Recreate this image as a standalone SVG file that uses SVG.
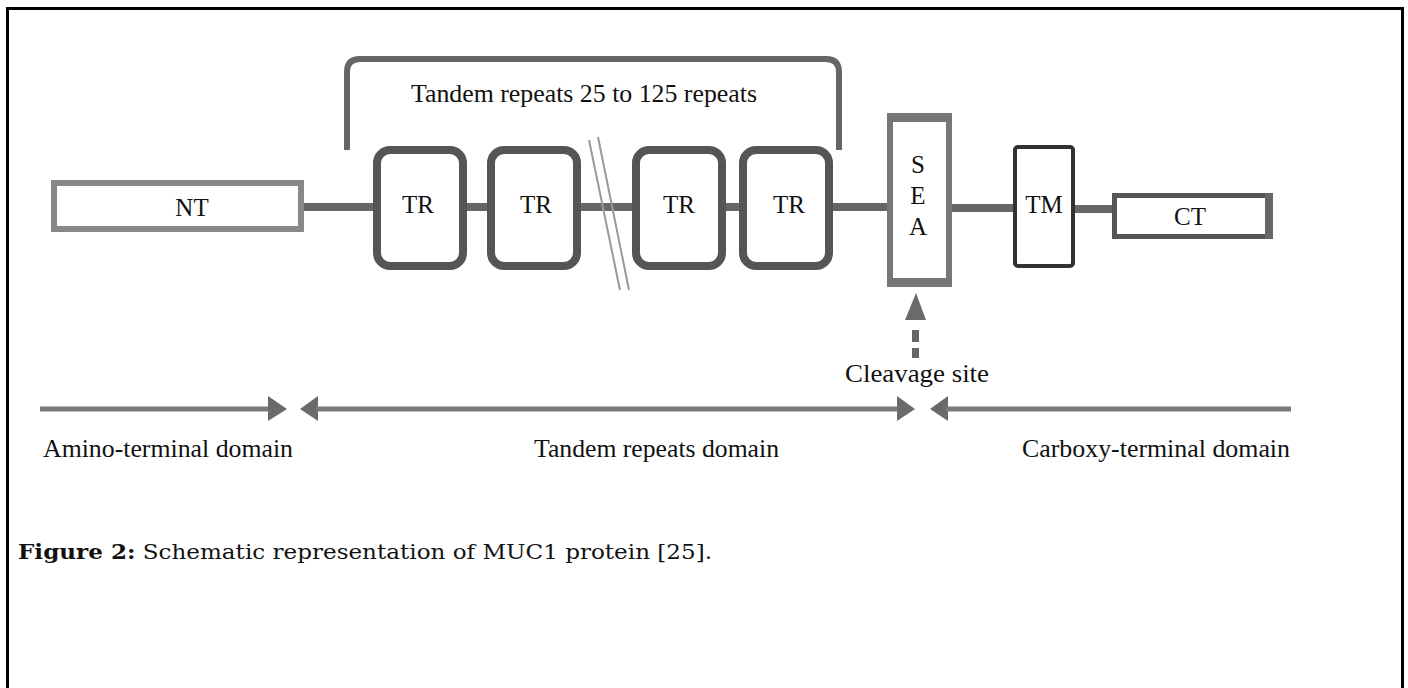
<svg xmlns="http://www.w3.org/2000/svg" width="1408" height="688" viewBox="0 0 1408 688">
  <style>
    .lbl { font-family: "Liberation Serif", "Times New Roman", serif; font-size: 25px; fill: #111; }
    .mid { text-anchor: middle; }
    .axis { stroke: #666; stroke-width: 8; fill: none; }
    .tr { fill: #fff; stroke: #555; stroke-width: 8; }
    .dom { stroke: #7a7a7a; stroke-width: 5; fill: none; }
    .head { fill: #6a6a6a; }
    .cap { font-family: "DejaVu Serif", "Liberation Serif", serif; font-size: 20px; fill: #111; }
  </style>
  <defs>
    <filter id="soft" x="-5%" y="-5%" width="110%" height="110%">
      <feGaussianBlur stdDeviation="0.7"/>
    </filter>
  </defs>

  <rect width="1408" height="688" fill="#fff"/>
  <!-- outer frame, open at the bottom edge -->
  <path d="M7.5 700 V8.5 H1402.5 V700" fill="none" stroke="#000" stroke-width="3"/>

  <!-- bracket over the tandem repeats -->
  <g id="bracket" filter="url(#soft)">
    <path d="M347 150 V72 Q347 59 360 59 H826 Q839 59 839 72 V150" fill="none" stroke="#666" stroke-width="6"/>
  </g>
  <text class="lbl" x="411" y="102" textLength="346" lengthAdjust="spacingAndGlyphs">Tandem repeats 25 to 125 repeats</text>

  <!-- backbone connectors -->
  <g id="connectors" filter="url(#soft)">
    <line class="axis" x1="300" y1="207" x2="377" y2="207"/>
    <line class="axis" x1="463" y1="207" x2="491" y2="207"/>
    <line class="axis" x1="577" y1="207" x2="636" y2="207"/>
    <line class="axis" x1="722" y1="207" x2="743" y2="207"/>
    <line class="axis" x1="829" y1="207" x2="890" y2="207"/>
    <line class="axis" x1="949" y1="208" x2="1016" y2="208"/>
    <line class="axis" x1="1072" y1="209" x2="1115" y2="209"/>
    <!-- break marks between the repeats -->
    <line x1="589" y1="140" x2="620" y2="290" stroke="#999" stroke-width="2"/>
    <line x1="598" y1="137" x2="629" y2="290" stroke="#999" stroke-width="2"/>
  </g>

  <g id="NT" filter="url(#soft)">
    <rect x="54" y="183" width="247" height="46" fill="#fff" stroke="#888" stroke-width="6"/>
  </g>
  <text class="lbl mid" x="192" y="216">NT</text>

  <g id="TR1" filter="url(#soft)">
    <rect class="tr" x="377" y="150" width="86" height="116" rx="13"/>
  </g>
  <text class="lbl mid" x="418" y="213">TR</text>

  <g id="TR2" filter="url(#soft)">
    <rect class="tr" x="491" y="150" width="86" height="116" rx="13"/>
  </g>
  <text class="lbl mid" x="536" y="213">TR</text>

  <g id="TR3" filter="url(#soft)">
    <rect class="tr" x="636" y="150" width="86" height="116" rx="13"/>
  </g>
  <text class="lbl mid" x="679" y="213">TR</text>

  <g id="TR4" filter="url(#soft)">
    <rect class="tr" x="743" y="150" width="86" height="116" rx="13"/>
  </g>
  <text class="lbl mid" x="789" y="213">TR</text>

  <g id="SEA" filter="url(#soft)">
    <rect x="890" y="116" width="59" height="168" fill="#fff" stroke="#777" stroke-width="6"/>
    <rect x="887" y="113" width="65" height="9" fill="#777"/>
    <rect x="887" y="278" width="65" height="9" fill="#777"/>
  </g>
  <text class="lbl mid" x="918" y="173">S</text>
  <text class="lbl mid" x="918" y="204">E</text>
  <text class="lbl mid" x="918" y="235">A</text>

  <g id="TM" filter="url(#soft)">
    <rect x="1015" y="147" width="58" height="119" rx="3" fill="#fff" stroke="#333" stroke-width="4"/>
  </g>
  <text class="lbl mid" x="1044" y="213">TM</text>

  <g id="CT" filter="url(#soft)">
    <rect x="1114.5" y="195.5" width="154" height="41" fill="#fff" stroke="#555" stroke-width="5"/>
    <rect x="1265" y="193" width="8" height="46" fill="#666"/>
  </g>
  <text class="lbl mid" x="1190" y="225">CT</text>

  <!-- cleavage-site pointer -->
  <g id="cleavage" filter="url(#soft)">
    <polygon class="head" points="916,293 926,320 905,320"/>
    <rect x="912" y="330" width="7" height="12" fill="#666"/>
    <rect x="912" y="348" width="7" height="10" fill="#666"/>
  </g>
  <text class="lbl" x="845" y="382" textLength="144" lengthAdjust="spacingAndGlyphs">Cleavage site</text>

  <!-- domain extent arrows -->
  <g id="domains" filter="url(#soft)">
    <line class="dom" x1="40" y1="409" x2="270" y2="409"/>
    <polygon class="head" points="268,396 287,409 268,421"/>
    <polygon class="head" points="300,409 318,396 318,421"/>
    <line class="dom" x1="316" y1="409" x2="900" y2="409"/>
    <polygon class="head" points="897,396 915,409 897,421"/>
    <polygon class="head" points="930,409 948,396 948,421"/>
    <line class="dom" x1="946" y1="409" x2="1291" y2="409"/>
  </g>
  <text class="lbl" x="43" y="457" textLength="250" lengthAdjust="spacingAndGlyphs">Amino-terminal domain</text>
  <text class="lbl" x="534" y="457" textLength="245" lengthAdjust="spacingAndGlyphs">Tandem repeats domain</text>
  <text class="lbl" x="1022" y="457" textLength="268" lengthAdjust="spacingAndGlyphs">Carboxy-terminal domain</text>

  <!-- caption -->
  <text class="cap" x="18" y="559" textLength="694" lengthAdjust="spacingAndGlyphs"><tspan font-weight="bold">Figure 2:</tspan> Schematic representation of MUC1 protein [25].</text>
</svg>
